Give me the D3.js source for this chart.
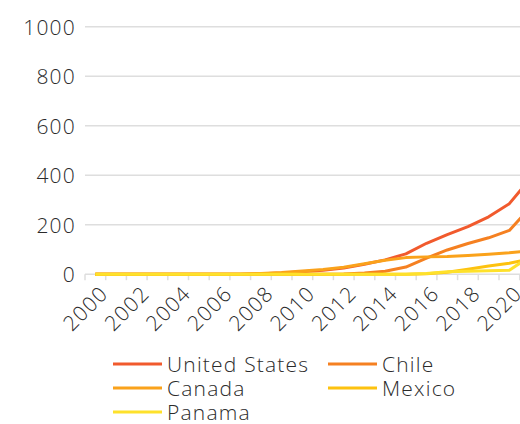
<!DOCTYPE html>
<html><head><meta charset="utf-8">
<script src="https://cdn.jsdelivr.net/npm/d3@7"></script>
<style>body{margin:0;background:#fff}svg{display:block}text{font-family:"Open Sans",sans-serif;font-weight:300;fill:#2b2b2b;letter-spacing:1.2px}</style>
</head><body><svg id="c" width="520" height="424"></svg>
<script>
const years = ["2000","2001","2002","2003","2004","2005","2006","2007","2008","2009","2010","2011","2012","2013","2014","2015","2016","2017","2018","2019","2020","2021"];
const unitedStates = [0,0,0,0,0,0,0,0,2,5,10,16,25,40,58,82,125,160,192,232,285,386];
const chile = [0,0,0,0,0,0,0,0,0,0,0,0,1,5,12,29,65,98,124,147,177,268];
const canada = [0,0,0,0,0,0,0,0,3,7,13,19,28,42,56,67,70,72,76,81,87,95];
const mexico = [0,0,0,0,0,0,0,0,0,0,0,0,0,0,0,0,2,8,20,33,44,62];
const panama = [0,0,0,0,0,0,0,0,0,0,0,0,0,0,0,0,3,10,12,14,16,72];
const seriesNames = ["United States","Chile","Canada","Mexico","Panama"];
const seriesValues = [unitedStates, chile, canada, mexico, panama];
const colors = ["#f15a2d","#f58021","#faa21b","#fdc20f","#fee12b"];
const yTicks = [0,200,400,600,800,1000];
const xLabels = years.filter((d,i)=>i%2===0 && +d<=2020);

const svg = d3.select("#c");
const x = d3.scaleBand().domain(years).range([85, 85+22*20.7]);
const y = d3.scaleLinear().domain([0,1000]).range([274.2, 26.7]);

svg.append("g").selectAll("line").data(yTicks.filter(d=>d>0)).join("line")
  .attr("x1",85).attr("x2",540).attr("y1",d=>y(d)).attr("y2",d=>y(d))
  .attr("stroke","#dedede").attr("stroke-width",1.5);
svg.append("g").selectAll("text").data(yTicks).join("text")
  .attr("x",76).attr("y",d=>y(d)).attr("text-anchor","end").attr("dominant-baseline","central")
  .attr("font-size",21).text(d=>d);
const xa = svg.append("g");
xa.append("line").attr("x1",85).attr("x2",540).attr("y1",y(0)).attr("y2",y(0)).attr("stroke","#dedede").attr("stroke-width",1.5);
xa.selectAll("line.t").data(years.concat(["end"])).join("line").attr("class","t")
  .attr("x1",(d,i)=>85+i*x.bandwidth()).attr("x2",(d,i)=>85+i*x.bandwidth())
  .attr("y1",y(0)).attr("y2",y(0)+6).attr("stroke","#dedede").attr("stroke-width",1.5);
xa.selectAll("text").data(xLabels).join("text")
  .attr("transform",d=>`translate(${x(d)+x.bandwidth()/2+14},295) rotate(-45)`)
  .attr("text-anchor","end").attr("font-size",21).text(d=>d);

const line = d3.line().x((d,i)=>x(years[i])+x.bandwidth()/2).y(d=>y(d));
svg.append("g").selectAll("path").data(seriesValues).join("path")
  .attr("d",d=>line(d)).attr("fill","none").attr("stroke",(d,i)=>colors[i])
  .attr("stroke-width",3).attr("stroke-linejoin","round");

const lg = svg.append("g");
const pos = [[113,364],[328,364],[113,388],[328,388],[113,412]];
seriesNames.forEach((n,i)=>{
  const [lx,ly]=pos[i];
  lg.append("line").attr("x1",lx).attr("x2",lx+49).attr("y1",ly).attr("y2",ly).attr("stroke",colors[i]).attr("stroke-width",3);
  lg.append("text").attr("x",lx+54).attr("y",ly).attr("dominant-baseline","central").attr("font-size",21).text(n);
});
</script></body></html>
